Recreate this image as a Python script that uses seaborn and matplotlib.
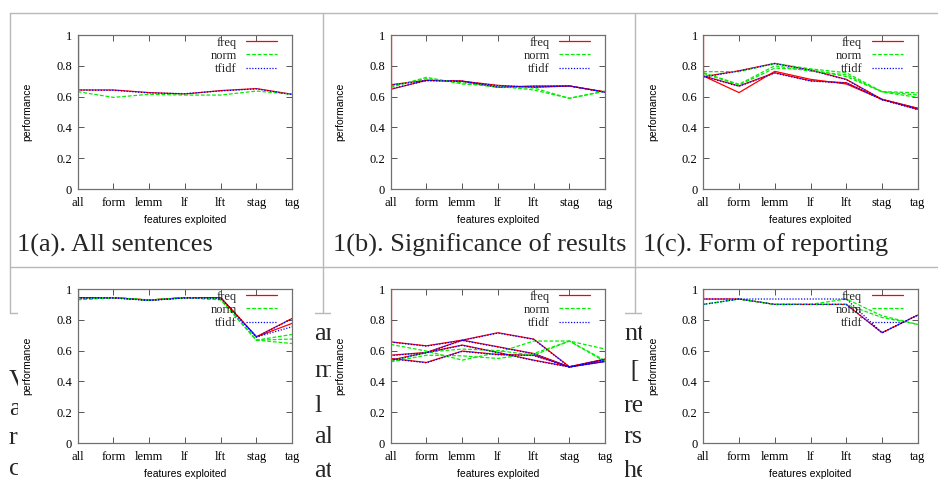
import numpy as np
import pandas as pd
import seaborn as sns
import matplotlib
matplotlib.use("Agg")
import matplotlib.pyplot as plt
from matplotlib.lines import Line2D
from matplotlib.patches import Rectangle

# ---------------- data ----------------
features = ["all", "form", "lemm", "lf", "lft", "stag", "tag"]
series_names = ["freq", "norm", "tfidf"]
yticks = [0, 0.2, 0.4, 0.6, 0.8, 1.0]
ytick_labels = ["0", "0.2", "0.4", "0.6", "0.8", "1"]
captions = ["1(a). All sentences", "1(b). Significance of results", "1(c). Form of reporting"]
spike_top = 1.0

# panel (a)
a_freq = [[0.643, 0.643, 0.626, 0.617, 0.639, 0.652, 0.615]]
a_norm = [[0.632, 0.595, 0.615, 0.610, 0.610, 0.636, 0.615]]
a_tfidf = [[0.643, 0.641, 0.624, 0.619, 0.637, 0.650, 0.613]]

# panel (b)
b_freq = [[0.647, 0.706, 0.701, 0.660, 0.669, 0.669, 0.630],
          [0.677, 0.706, 0.700, 0.673, 0.660, 0.669, 0.630]]
b_norm = [[0.660, 0.725, 0.682, 0.669, 0.643, 0.589, 0.636],
          [0.669, 0.716, 0.690, 0.660, 0.656, 0.589, 0.636]]
b_tfidf = [[0.650, 0.704, 0.700, 0.662, 0.667, 0.669, 0.628],
           [0.675, 0.704, 0.699, 0.671, 0.662, 0.669, 0.628]]

# panel (c)
c_freq = [[0.729, 0.768, 0.816, 0.773, 0.712, 0.582, 0.524],
          [0.734, 0.669, 0.755, 0.703, 0.690, 0.582, 0.517],
          [0.734, 0.626, 0.764, 0.712, 0.682, 0.582, 0.524]]
c_norm = [[0.762, 0.762, 0.815, 0.780, 0.755, 0.632, 0.625],
          [0.751, 0.675, 0.785, 0.775, 0.730, 0.632, 0.610],
          [0.755, 0.680, 0.800, 0.765, 0.742, 0.630, 0.595]]
c_tfidf = [[0.727, 0.766, 0.814, 0.771, 0.710, 0.580, 0.522],
           [0.732, 0.667, 0.753, 0.701, 0.688, 0.580, 0.515]]

# panel (d)
d_freq = [[0.944, 0.944, 0.928, 0.944, 0.944, 0.690, 0.809],
          [0.944, 0.944, 0.928, 0.944, 0.944, 0.690, 0.777]]
d_norm = [[0.933, 0.944, 0.928, 0.944, 0.933, 0.668, 0.705],
          [0.933, 0.944, 0.928, 0.944, 0.933, 0.668, 0.675],
          [0.930, 0.944, 0.928, 0.944, 0.930, 0.668, 0.646]]
d_tfidf = [[0.942, 0.942, 0.926, 0.942, 0.942, 0.688, 0.807],
           [0.942, 0.942, 0.926, 0.942, 0.942, 0.688, 0.755]]

# panel (e)
e_freq = [[0.657, 0.631, 0.668, 0.716, 0.675, 0.495, 0.531],
          [0.570, 0.588, 0.668, 0.625, 0.581, 0.495, 0.544],
          [0.549, 0.523, 0.597, 0.575, 0.570, 0.495, 0.531],
          [0.538, 0.588, 0.636, 0.588, 0.538, 0.495, 0.545]]
e_norm = [[0.640, 0.597, 0.538, 0.588, 0.662, 0.662, 0.610],
          [0.527, 0.570, 0.566, 0.549, 0.581, 0.662, 0.527],
          [0.530, 0.590, 0.610, 0.600, 0.570, 0.662, 0.535]]
e_tfidf = [[0.655, 0.629, 0.666, 0.714, 0.673, 0.493, 0.529],
           [0.568, 0.586, 0.666, 0.623, 0.579, 0.493, 0.542],
           [0.547, 0.521, 0.595, 0.573, 0.568, 0.493, 0.529],
           [0.536, 0.586, 0.634, 0.586, 0.536, 0.493, 0.543]]

# panel (f)
f_freq = [[0.935, 0.935, 0.900, 0.900, 0.900, 0.716, 0.831]]
f_norm = [[0.900, 0.935, 0.900, 0.900, 0.935, 0.826, 0.770],
          [0.900, 0.935, 0.900, 0.900, 0.900, 0.815, 0.770]]
f_tfidf = [[0.935, 0.935, 0.935, 0.935, 0.935, 0.716, 0.831],
           [0.900, 0.935, 0.900, 0.900, 0.900, 0.716, 0.831]]

panels = [(a_freq, a_norm, a_tfidf), (b_freq, b_norm, b_tfidf), (c_freq, c_norm, c_tfidf),
          (d_freq, d_norm, d_tfidf), (e_freq, e_norm, e_tfidf), (f_freq, f_norm, f_tfidf)]

# background page text fragments (visible between the plot images)
bg_left = ["V", "a", "r", "c"]
bg_mid = ["an", "m", "l", "al", "at"]
bg_right = ["nt", " [", "re", "rs", "he"]

# ---------------- style ----------------
sns.set_theme(style="white")
plt.rcParams["font.family"] = ["DejaVu Sans"]
SERIF = "Liberation Serif"
SANS = "Liberation Sans"

palette = {"freq": "#ff0000", "norm": "#00ee00", "tfidf": "#0000ff"}
dashes = {"freq": "", "norm": (3, 1.5), "tfidf": (1, 1.3)}

W, H = 938, 480
fig = plt.figure(figsize=(W / 100, H / 100), dpi=100)
fig.patch.set_facecolor("white")


def fx(x):
    return x / W


def fy(y):
    return 1 - y / H


# table lines
line_col = "#b8b8b8"
for (x0, y0, x1, y1) in [(10, 13, W, 13), (10, 267, W, 267), (10, 313, W, 313),
                         (10, 13, 10, 313), (322.7, 13, 322.7, 313), (635, 13, 635, 313)]:
    fig.add_artist(Line2D([fx(x0), fx(x1)], [fy(y0), fy(y1)], transform=fig.transFigure,
                          color=line_col, lw=1.0, zorder=-1.5))

# background text
for i, s in enumerate(bg_left):
    fig.text(fx(9), fy([387, 415, 444, 475][i]), s, fontfamily=SERIF, fontsize=19,
             va="baseline", ha="left", zorder=-2)
for i, s in enumerate(bg_mid):
    fig.text(fx(314), fy([340, 377, 412, 443, 477][i]), s, fontfamily=SERIF, fontsize=19,
             va="baseline", ha="left", zorder=-2)
for i, s in enumerate(bg_right):
    fig.text(fx(624), fy([340, 377, 412, 443, 477][i]), s, fontfamily=SERIF, fontsize=19,
             va="baseline", ha="left", zorder=-2)

# white plot-image areas of the bottom row
for (x0, x1) in [(17.5, 315), (331, 625), (642, 938)]:
    fig.add_artist(Rectangle((fx(x0), 0), fx(x1) - fx(x0), fy(275), transform=fig.transFigure,
                             facecolor="white", edgecolor="none", zorder=-1))

cols_left = [77.7, 390.7, 703.3]
rows_top = [35, 289]
AW, AH = 214.5, 154

legend_handles = [Line2D([], [], color=palette[s], lw=0.9, dashes=dashes[s] if dashes[s] else (None, None))
                  for s in series_names]

for k, (fr, no, tf) in enumerate(panels):
    r, c = divmod(k, 3)
    left, top = cols_left[c], rows_top[r]
    ax = fig.add_axes([fx(left), fy(top + AH), AW / W, AH / H])
    ax.set_facecolor("white")
    rows = []
    for name, runs in (("freq", fr), ("norm", no), ("tfidf", tf)):
        for ri, vals in enumerate(runs):
            for i, v in enumerate(vals):
                rows.append(dict(pos=i, perf=v, series=name, run=f"{name}{ri}"))
    df = pd.DataFrame(rows)
    sns.lineplot(data=df, x="pos", y="perf", hue="series", style="series", units="run",
                 estimator=None, sort=False, palette=palette, dashes=dashes,
                 hue_order=series_names, style_order=series_names,
                 linewidth=0.9, legend=False, ax=ax)
    ax.vlines(0, fr[0][0], spike_top, color=palette["freq"], lw=0.9)

    ax.set_xlim(0, 6)
    ax.set_ylim(0, 1)
    ax.set_xticks(range(len(features)))
    ax.set_xticklabels(features, fontfamily=SERIF, fontsize=9)
    ax.set_yticks(yticks)
    ax.set_yticklabels(ytick_labels, fontfamily=SERIF, fontsize=9)
    ax.tick_params(axis="x", direction="in", top=True, bottom=True, length=4, width=0.7,
                   color="#555555", pad=5.5, labelcolor="black")
    ax.tick_params(axis="y", direction="in", left=True, right=True, length=4, width=0.7,
                   color="#555555", pad=4, labelcolor="black")
    for sp in ax.spines.values():
        sp.set_color("#707070")
        sp.set_linewidth(0.9)
        sp.set_visible(True)
    ax.grid(False)
    ax.set_xlabel("features exploited", fontfamily=SANS, fontsize=7.5, color="black")
    ax.xaxis.set_label_coords(0.5, -0.17)
    ax.set_ylabel("performance", fontfamily=SANS, fontsize=7.5, color="black")
    ax.yaxis.set_label_coords(-0.21, 0.5)
    ax.legend(legend_handles, series_names, loc="upper right", bbox_to_anchor=(0.93, 0.99),
              markerfirst=False, frameon=False, prop={"family": SERIF, "size": 9},
              handlelength=2.5, handletextpad=0.75, labelspacing=0.1, borderpad=0,
              borderaxespad=0)

# captions
for c, cap in enumerate(captions):
    fig.text(fx([17, 333, 643][c]), fy(252), cap, fontfamily=SERIF, fontsize=19,
             va="baseline", ha="left")

fig.savefig("out.png", dpi=100, facecolor="white")
